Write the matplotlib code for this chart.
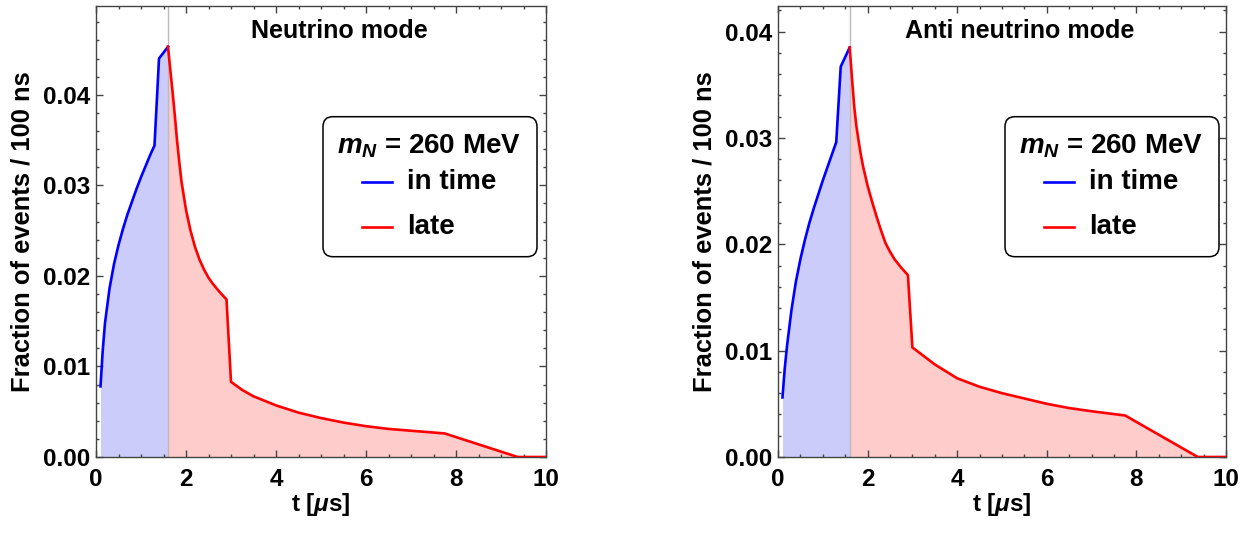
import matplotlib
matplotlib.use("Agg")
import matplotlib.pyplot as plt
from matplotlib.patches import FancyBboxPatch
from matplotlib.ticker import MultipleLocator, FormatStrFormatter

# ---------------- data ----------------
nu_in_t = [0.1, 0.15, 0.2, 0.3, 0.4, 0.5, 0.6, 0.7, 0.8, 0.9, 1.0, 1.1, 1.2, 1.3, 1.4, 1.6]
nu_in_v = [0.0078, 0.0118, 0.0148, 0.0186, 0.0213, 0.0234, 0.0252, 0.0268, 0.0282, 0.0296,
           0.0309, 0.0321, 0.0333, 0.0344, 0.0440, 0.0453]
nu_late_t = [1.6, 1.65, 1.7, 1.75, 1.8, 1.85, 1.9, 2.0, 2.1, 2.2, 2.3, 2.4, 2.5, 2.6, 2.75, 2.9,
             3.0, 3.25, 3.5, 4.0, 4.5, 5.0, 5.5, 6.0, 6.5, 7.0, 7.75, 9.37, 10.0]
nu_late_v = [0.0453, 0.0428, 0.0404, 0.0378, 0.0350, 0.0326, 0.0304, 0.0273, 0.0250, 0.0232,
             0.0218, 0.0207, 0.0198, 0.0191, 0.0182, 0.0174,
             0.0083, 0.0074, 0.0067, 0.0057, 0.0049, 0.0043, 0.0038, 0.0034, 0.0031, 0.0029,
             0.0026, 0.0, 0.0]

anu_in_t = [0.1, 0.15, 0.2, 0.3, 0.4, 0.5, 0.6, 0.7, 0.8, 0.9, 1.0, 1.1, 1.2, 1.3, 1.4, 1.6]
anu_in_v = [0.0056, 0.0083, 0.0104, 0.0138, 0.0165, 0.0186, 0.0204, 0.0220, 0.0234, 0.0247,
            0.0260, 0.0272, 0.0284, 0.0296, 0.0367, 0.0385]
anu_late_t = [1.6, 1.65, 1.7, 1.75, 1.8, 1.85, 1.9, 2.0, 2.1, 2.2, 2.3, 2.4, 2.5, 2.6, 2.75, 2.9,
              3.0, 3.25, 3.5, 4.0, 4.5, 5.0, 5.5, 6.0, 6.5, 7.0, 7.75, 9.37, 10.0]
anu_late_v = [0.0385, 0.0357, 0.0330, 0.0311, 0.0297, 0.0284, 0.0273, 0.0255, 0.0240, 0.0226,
              0.0213, 0.0201, 0.0193, 0.0186, 0.0178, 0.0171,
              0.0103, 0.0095, 0.0087, 0.0074, 0.0066, 0.0060, 0.0055, 0.0050, 0.0046,
              0.0043, 0.0039, 0.0, 0.0]

t_split = 1.6
titles = ["Neutrino mode", "Anti neutrino mode"]
y_max = [0.0498, 0.0424]
x_ticks = [0, 2, 4, 6, 8, 10]
legend_title = r"$m_N$ = 260 MeV"
legend_labels = ["in time", "late"]
legend_colors = ["#0000ff", "#ff0000"]
x_label = r"t [$\mu$s]"
y_label = "Fraction of events / 100 ns"

# ---------------- style ----------------
plt.rcParams["font.family"] = ["Liberation Sans", "DejaVu Sans"]
plt.rcParams["font.weight"] = "bold"
plt.rcParams["axes.labelweight"] = "bold"
plt.rcParams["mathtext.fontset"] = "custom"
plt.rcParams["mathtext.rm"] = "Liberation Sans:bold"
plt.rcParams["mathtext.it"] = "Liberation Sans:bold:italic"
plt.rcParams["mathtext.bf"] = "Liberation Sans:bold"

W, H = 1254, 533
fig = plt.figure(figsize=(W / 100, H / 100), dpi=100)

axes_px = [(96, 6, 546, 457), (778, 6, 1226, 457)]
data = [(nu_in_t, nu_in_v, nu_late_t, nu_late_v),
        (anu_in_t, anu_in_v, anu_late_t, anu_late_v)]

frame_col = "#444444"
for k, (x0, y0, x1, y1) in enumerate(axes_px):
    aw, ah = x1 - x0, y1 - y0
    ax = fig.add_axes([x0 / W, 1 - y1 / H, aw / W, ah / H])
    it, iv, lt, lv = data[k]
    ax.fill_between(it, 0, iv, color="#ccccfa", lw=0, zorder=1)
    ax.fill_between(lt, 0, lv, color="#ffcccc", lw=0, zorder=1)
    ax.axvline(t_split, color="#bbbbbb", lw=1.0, zorder=2)
    ax.plot(it, iv, color=legend_colors[0], lw=1.9, zorder=3, solid_joinstyle="round")
    ax.plot(lt, lv, color=legend_colors[1], lw=1.9, zorder=3, solid_joinstyle="round")

    ax.set_xlim(0, 10)
    ax.set_ylim(0, y_max[k])
    ax.set_xticks(x_ticks)
    ax.xaxis.set_minor_locator(MultipleLocator(0.5))
    ax.yaxis.set_major_locator(MultipleLocator(0.01))
    ax.yaxis.set_minor_locator(MultipleLocator(0.002))
    ax.yaxis.set_major_formatter(FormatStrFormatter("%.2f"))
    ax.tick_params(which="both", direction="in", top=True, right=True,
                   color=frame_col, labelsize=17.5, width=1.0)
    ax.tick_params(which="major", length=5)
    ax.tick_params(which="minor", length=2.5)
    ax.tick_params(axis="x", which="major", pad=8)
    ax.tick_params(axis="y", which="major", pad=4)
    for sp in ax.spines.values():
        sp.set_color(frame_col)
        sp.set_linewidth(1.0)
    for lab in ax.get_xticklabels() + ax.get_yticklabels():
        lab.set_fontweight("bold")

    ax.set_xlabel(x_label, fontsize=17.5, labelpad=0)
    ax.set_ylabel(y_label, fontsize=18.4, labelpad=6)
    ax.text(0.54, 0.945, titles[k], transform=ax.transAxes, ha="center", va="center",
            fontsize=18, fontweight="bold")

    # legend box (drawn in axes coordinates, positions given in pixels from axes edges)
    fy = lambda p: (457 - p) / ah
    bx0, bx1, by0, by1 = 227 / aw, 441 / aw, fy(256.7), fy(116.7)
    box = FancyBboxPatch((bx0, by0), bx1 - bx0, by1 - by0,
                         boxstyle="round,pad=0,rounding_size=0.022",
                         transform=ax.transAxes, facecolor="white",
                         edgecolor="black", lw=1.1, zorder=5)
    ax.add_patch(box)
    ax.text(333 / aw, fy(146.7), legend_title, transform=ax.transAxes, ha="center",
            va="center", fontsize=20, fontweight="bold", zorder=6)
    for j, (lab, col) in enumerate(zip(legend_labels, legend_colors)):
        yy = fy([181.7, 227.3][j])
        ax.plot([265.7 / aw, 295.7 / aw], [yy, yy], transform=ax.transAxes, color=col,
                lw=1.9, zorder=6, clip_on=False)
        ax.text(310.7 / aw, yy, lab, transform=ax.transAxes, ha="left", va="center",
                fontsize=20, fontweight="bold", zorder=6)

fig.savefig("out.png", dpi=100)
